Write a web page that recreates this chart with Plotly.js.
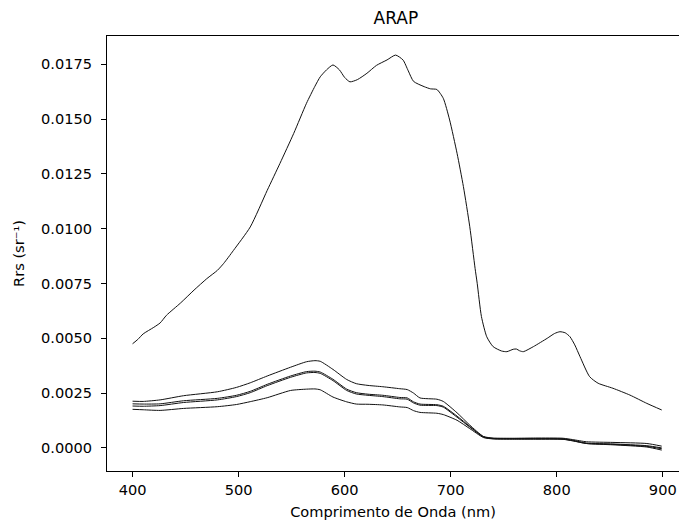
<!DOCTYPE html>
<html>
<head>
<meta charset="utf-8">
<script src="https://cdn.plot.ly/plotly-3.0.1.min.js"></script>
<style>html,body{margin:0;padding:0;overflow:hidden;background:#fff}</style>
</head>
<body>
<div id="chart" style="width:679px;height:525px"></div>
<script>
// High-reflectance spectrum
const wavelengthsHigh = [400,405,410,420,426,432,445,458,470,480,486,495,511,527,539,552,564,572,577,583,589,595,600,605,612,621,630,640,648,655,660,665,675,681,687,693,699,706,712,718,723,725,729,734,740,748,753,759,762,765,768.5,778,791,798,803,808,812.5,817,822,831,839,853,869,885,899];
const rrsHigh = [0.00475,0.00495,0.00520,0.00550,0.00570,0.00605,0.00660,0.00720,0.00772,0.00810,0.00842,0.00900,0.01008,0.01175,0.01298,0.01435,0.01572,0.01650,0.01693,0.01725,0.01747,0.01725,0.01690,0.01670,0.01680,0.01709,0.01745,0.01770,0.01792,0.01770,0.01720,0.01672,0.01648,0.01638,0.01635,0.01595,0.01496,0.01344,0.01192,0.01009,0.00819,0.00751,0.00599,0.00507,0.00462,0.00442,0.00439,0.00450,0.00451,0.00443,0.00439,0.00462,0.00500,0.00522,0.00530,0.00525,0.00507,0.00470,0.00416,0.00325,0.00295,0.00272,0.00241,0.00203,0.00173];

// Low-reflectance spectra
const wavelengthsLow = [400,410,426,448,480,498,511,527,549,564,572,577,589,602,611,622,636,652,659,665,671,687,693,706,718,731,740,760,780,806,815,828,853,885,899];
const rrsLow1 = [0.00213,0.00212,0.00219,0.00238,0.00256,0.00276,0.00297,0.00328,0.00368,0.00393,0.00398,0.00395,0.00358,0.00312,0.00293,0.00285,0.00279,0.00270,0.00266,0.00250,0.00228,0.00222,0.00212,0.00160,0.00104,0.00052,0.00045,0.00044,0.00045,0.00044,0.00038,0.00028,0.00025,0.00020,0.00008];
const rrsLow2 = [0.00201,0.00200,0.00201,0.00215,0.00226,0.00240,0.00258,0.00290,0.00328,0.00348,0.00350,0.00346,0.00313,0.00268,0.00252,0.00245,0.00240,0.00230,0.00228,0.00210,0.00200,0.00197,0.00190,0.00145,0.00098,0.00051,0.00043,0.00042,0.00042,0.00041,0.00035,0.00022,0.00018,0.00010,0.00000];
const rrsLow3 = [0.00191,0.00190,0.00193,0.00207,0.00219,0.00234,0.00252,0.00284,0.00322,0.00342,0.00344,0.00340,0.00307,0.00262,0.00246,0.00240,0.00234,0.00224,0.00222,0.00205,0.00195,0.00193,0.00186,0.00140,0.00095,0.00049,0.00042,0.00041,0.00041,0.00040,0.00033,0.00020,0.00016,0.00007,-0.00004];
const rrsLow4 = [0.00176,0.00174,0.00171,0.00180,0.00188,0.00198,0.00211,0.00229,0.00262,0.00268,0.00269,0.00265,0.00232,0.00210,0.00200,0.00199,0.00196,0.00187,0.00184,0.00170,0.00162,0.00158,0.00152,0.00126,0.00088,0.00047,0.00041,0.00040,0.00040,0.00039,0.00032,0.00020,0.00014,0.00004,-0.00010];

const xTicks = [400,500,600,700,800,900];
const yTicks = [0,0.0025,0.005,0.0075,0.01,0.0125,0.015,0.0175];
const yTickText = ['0.0000','0.0025','0.0050','0.0075','0.0100','0.0125','0.0150','0.0175'];

const series = [
  [wavelengthsHigh, rrsHigh],
  [wavelengthsLow, rrsLow1],
  [wavelengthsLow, rrsLow2],
  [wavelengthsLow, rrsLow3],
  [wavelengthsLow, rrsLow4]
];
const traces = series.map(s => ({x:s[0], y:s[1], mode:'lines', line:{color:'#111', width:1, shape:'spline', smoothing:0.6}, hoverinfo:'skip'}));

const font = {family:'DejaVu Sans, sans-serif', color:'#000', size:14.6};
const layout = {
  width:679, height:525,
  margin:{l:107, r:0, t:36, b:54, pad:0},
  paper_bgcolor:'#fff', plot_bgcolor:'#fff',
  showlegend:false,
  font: font,
  title:{text:'ARAP', font:{family:'DejaVu Sans, sans-serif', size:17, color:'#000'}, xref:'paper', x:0.505, xanchor:'center', yref:'container', y:1-18/525, yanchor:'middle'},
  xaxis:{
    range:[375.9, 915.3], tickvals:xTicks, ticktext:xTicks.map(String),
    ticks:'outside', ticklen:5, tickwidth:1, tickcolor:'#000',
    showline:true, linecolor:'#000', linewidth:1, mirror:true,
    showgrid:false, zeroline:false, tickfont:font,
    title:{text:'Comprimento de Onda (nm)', font:font, standoff:10}
  },
  yaxis:{
    range:[-0.001054, 0.018791], tickvals:yTicks, ticktext:yTickText,
    ticks:'outside', ticklen:5, tickwidth:1, tickcolor:'#000', ticklabelstandoff:6,
    showline:true, linecolor:'#000', linewidth:1, mirror:false,
    showgrid:false, zeroline:false, tickfont:font,
    title:{text:'Rrs (sr⁻¹)', font:font, standoff:12}
  }
};
Plotly.newPlot('chart', traces, layout, {staticPlot:true, displayModeBar:false});
</script>
</body>
</html>
